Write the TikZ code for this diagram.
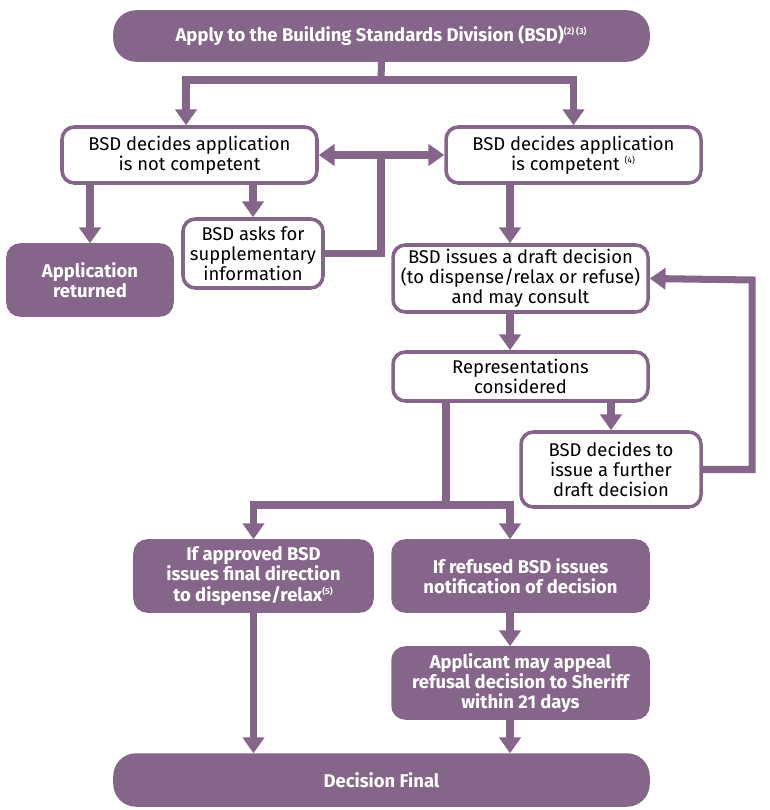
\documentclass[tikz,border=0pt]{standalone}
\usepackage{fontspec}
\setmainfont{Fira Sans}
\usetikzlibrary{arrows.meta}
\definecolor{bsdpurple}{HTML}{86658A}
\tikzset{
	box/.style={draw=bsdpurple,line width=2pt,rounded corners=7pt,fill=white,align=center,font=\fontsize{10.5}{11.5}\selectfont,inner sep=0pt},
	dark/.style={box,fill=bsdpurple,text=white,font=\fontsize{10.5}{11.5}\selectfont\bfseries},
	pill/.style={dark,rounded corners=12pt},
	link/.style={draw=bsdpurple,line width=4pt,-{Triangle[length=9pt,width=12pt]}},
	line/.style={draw=bsdpurple,line width=4pt}
}
\begin{document}
\begin{tikzpicture}[x=0.02cm,y=-0.02cm]
	\useasboundingbox (0,0) rectangle (769,810);
	% boxes
	\node[pill,minimum width=533*0.02cm,minimum height=48*0.02cm] (apply) at (381.5,36) {Apply to the Building Standards Division (BSD)\textsuperscript{\tiny(2) (3)}};
	\node[box,minimum width=255*0.02cm,minimum height=56*0.02cm] (notcomp) at (189.5,155) {BSD decides application\\is not competent};
	\node[box,minimum width=255*0.02cm,minimum height=56*0.02cm] (comp) at (573.5,155) {BSD decides application\\is competent \textsuperscript{\tiny(4)}};
	\node[dark,minimum width=164*0.02cm,minimum height=70*0.02cm] (returned) at (90,280) {Application\\returned};
	\node[box,minimum width=140*0.02cm,minimum height=69*0.02cm] (supp) at (253,253.5) {BSD asks for\\supplementary\\information};
	\node[box,minimum width=255*0.02cm,minimum height=67*0.02cm] (draft) at (520.5,278.5) {BSD issues a draft decision\\(to dispense/relax or refuse)\\and may consult};
	\node[box,minimum width=255*0.02cm,minimum height=49*0.02cm] (repr) at (520.5,376.5) {Representations\\considered};
	\node[box,minimum width=180*0.02cm,minimum height=75*0.02cm] (further) at (611,469.5) {BSD decides to\\issue a further\\draft decision};
	\node[dark,minimum width=237*0.02cm,minimum height=70*0.02cm] (approved) at (253.5,576) {If approved BSD\\issues final direction\\to dispense/relax\textsuperscript{\tiny(5)}};
	\node[dark,minimum width=255*0.02cm,minimum height=70*0.02cm] (refused) at (520.5,576) {If refused BSD issues\\notification of decision};
	\node[dark,minimum width=255*0.02cm,minimum height=70*0.02cm] (appeal) at (520.5,683) {Applicant may appeal\\refusal decision to Sheriff\\within 21 days};
	\node[pill,minimum width=533*0.02cm,minimum height=50*0.02cm] (final) at (381.5,780) {Decision Final};
	% connectors
	\coordinate (split) at (381,80);
	\draw[line] (apply.south) -- (split);
	\draw[link] (split) -| (notcomp.north -| 186,0);
	\draw[link] (split) -| (comp.north);
	\draw[line,{Triangle[length=9pt,width=12pt]}-{Triangle[length=9pt,width=12pt]}] (notcomp.east) -- (comp.west);
	\draw[line] (supp.east) -| (381,155);
	\draw[link] (notcomp.south -| returned.north) -- (returned.north);
	\draw[link] (notcomp.south -| supp.north) -- (supp.north);
	\draw[link] (comp.south -| 510,0) -- (draft.north -| 510,0);
	\draw[link] (draft.south -| 510,0) -- (repr.north -| 510,0);
	\draw[link] (repr.south -| further.north) -- (further.north);
	\draw[link] (further.east) -| (752,280) -- (draft.east);
	\coordinate (fork) at (446,505);
	\draw[line] (repr.south -| fork) -- (fork);
	\draw[link] (fork) -| (approved.north);
	\draw[link] (fork) -| (refused.north -| 510,0);
	\draw[link] (refused.south -| 510,0) -- (appeal.north -| 510,0);
	\draw[link] (approved.south) -- (final.north -| approved.south);
	\draw[link] (appeal.south -| 510,0) -- (final.north -| 510,0);
\end{tikzpicture}
\end{document}
